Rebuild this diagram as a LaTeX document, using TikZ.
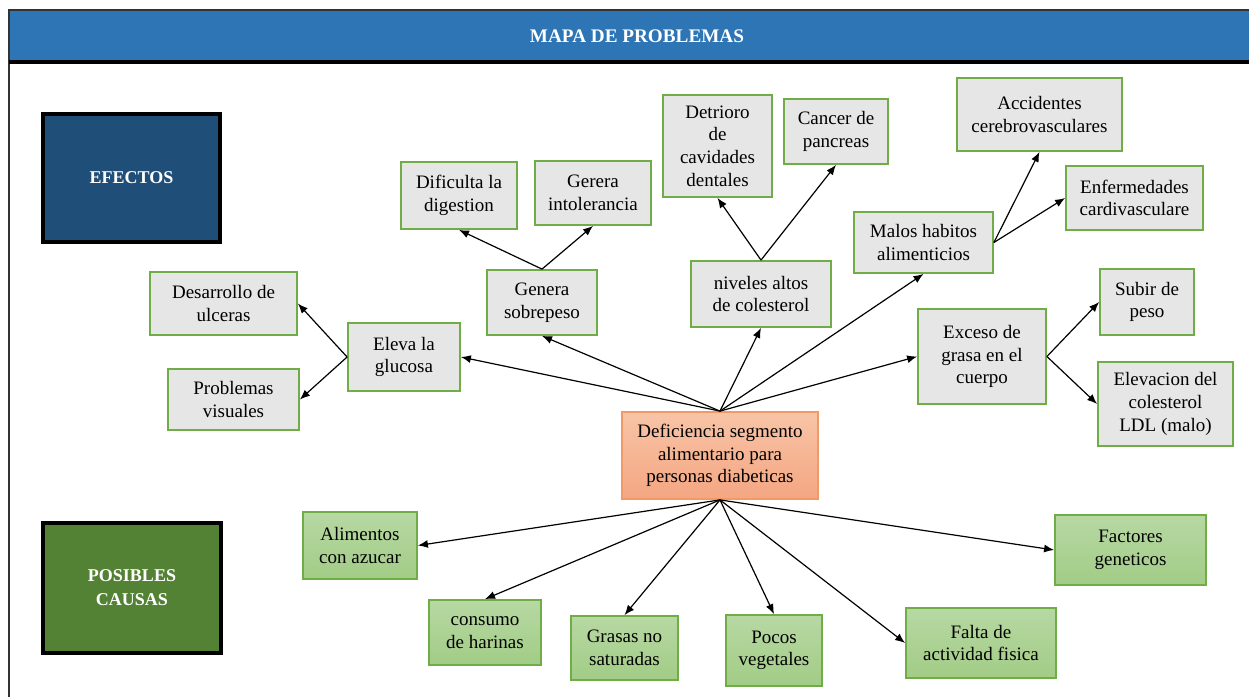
\documentclass[tikz,border=0pt]{standalone}
\usepackage{fontspec}
\usetikzlibrary{arrows.meta}
\setmainfont{Liberation Serif}
\definecolor{cabecera}{HTML}{2E75B6}
\definecolor{azulosc}{HTML}{1F4E79}
\definecolor{verdeosc}{HTML}{548235}
\definecolor{gris}{HTML}{E7E6E6}
\definecolor{borde}{HTML}{70AD47}
\definecolor{causaarr}{HTML}{B7D8A3}
\definecolor{causaab}{HTML}{A2CC86}
\definecolor{centroarr}{HTML}{F8C4A6}
\definecolor{centroab}{HTML}{F4A682}
\definecolor{centroborde}{HTML}{F09A68}
\begin{document}
\begin{tikzpicture}[>={Latex[length=5pt,width=4pt]}, x=0.5pt, y=-0.5pt,
  font=\fontsize{9.5}{11.3}\selectfont,
  sz/.style 2 args={minimum width=#1*0.5pt, minimum height=#2*0.5pt},
  caja/.style={draw=borde, line width=0.9pt, align=center, inner sep=2pt},
  efecto/.style={caja, fill=gris},
  causa/.style={caja, top color=causaarr, bottom color=causaab},
  titulo/.style={draw=black, line width=1.6pt, align=center, text=white, font=\fontsize{9}{12}\selectfont\bfseries},
  flecha/.style={->, semithick}]
\useasboundingbox (0,0) rectangle (1249,697);
\fill[cabecera] (9,10) rectangle (1249,62);
\draw[line width=0.8pt, black!80] (1249,10) -- (9,10) -- (9,697);
\draw[line width=1.6pt] (9,62) -- (1249,62);
\node[text=white, font=\fontsize{9.6}{12}\selectfont\bfseries] (mapa) at (637,36) {MAPA DE PROBLEMAS};

\node[titulo, fill=azulosc, sz={177}{128}] (efectos) at (131.5,178) {EFECTOS};
\node[titulo, fill=verdeosc, sz={178}{130}] (causas) at (132,588) {POSIBLES\\CAUSAS};

\node[caja, fill=centroarr, draw=centroborde, top color=centroarr, bottom color=centroab, sz={196}{87}] (centro) at (720,455.5) {Deficiencia segmento\\alimentario para\\personas diabeticas};

\node[efecto, sz={147}{63}] (ulceras) at (223.5,303.5) {Desarrollo de\\ulceras};
\node[efecto, sz={131}{61}] (visuales) at (233.5,399.5) {Problemas\\visuales};
\node[efecto, sz={112}{68}] (glucosa) at (404,357) {Eleva la\\glucosa};
\node[efecto, sz={116}{67}] (digestion) at (459,195.5) {Dificulta la\\digestion};
\node[efecto, sz={116}{64}] (intolerancia) at (593,193) {Gerera\\intolerancia};
\node[efecto, sz={110}{65}] (sobrepeso) at (542,302.5) {Genera\\sobrepeso};
\node[efecto, sz={109}{102}] (dentales) at (717.5,146) {Detrioro\\de\\cavidades\\dentales};
\node[efecto, sz={104}{65}] (pancreas) at (836,131.5) {Cancer de\\pancreas};
\node[efecto, sz={140}{66}] (colesterol) at (761,294) {niveles altos\\de colesterol};
\node[efecto, sz={139}{61}] (habitos) at (923.5,242.5) {Malos habitos\\alimenticios};
\node[efecto, sz={165}{73}] (accidentes) at (1039.5,114.5) {Accidentes\\cerebrovasculares};
\node[efecto, sz={137}{64}] (cardio) at (1134.5,198) {Enfermedades\\cardivasculare};
\node[efecto, sz={128}{95}] (grasa) at (982,356.5) {Exceso de\\grasa en el\\cuerpo};
\node[efecto, sz={94}{66}] (peso) at (1147,302) {Subir de\\peso};
\node[efecto, sz={135}{84}] (ldl) at (1165.5,404) {Elevacion del\\colesterol\\LDL (malo)};

\node[causa, sz={114}{67}] (azucar) at (360,545.5) {Alimentos\\con azucar};
\node[causa, sz={112}{65}] (harinas) at (485,632.5) {consumo\\de harinas};
\node[causa, sz={107}{64}] (grasas) at (624.5,648) {Grasas no\\saturadas};
\node[causa, sz={96}{71}] (vegetales) at (774,650.5) {Pocos\\vegetales};
\node[causa, sz={150}{70}] (actividad) at (981,643) {Falta de\\actividad fisica};
\node[causa, sz={151}{70}] (geneticos) at (1130.5,550) {Factores\\geneticos};

% efectos
\draw[flecha] (centro.north) -- (glucosa.east);
\draw[flecha] (centro.north) -- (sobrepeso.south);
\draw[flecha] (centro.north) -- (colesterol.south);
\draw[flecha] (centro.north) -- (habitos.south);
\draw[flecha] (centro.north) -- (grasa.west);
\draw[flecha] (glucosa.west) -- (ulceras.east);
\draw[flecha] (glucosa.west) -- (visuales.east);
\draw[flecha] (sobrepeso.north) -- (digestion.south);
\draw[flecha] (sobrepeso.north) -- (intolerancia.south);
\draw[flecha] (colesterol.north) -- (dentales.south);
\draw[flecha] (colesterol.north) -- (pancreas.south);
\draw[flecha] (habitos.east) -- (accidentes.south);
\draw[flecha] (habitos.east) -- (cardio.west);
\draw[flecha] (grasa.east) -- (peso.west);
\draw[flecha] (grasa.east) -- (ldl.west);
% causas
\foreach \c/\a in {azucar/east, harinas/north, grasas/north, vegetales/north, actividad/west, geneticos/west}
  \draw[flecha] (centro.south) -- (\c.\a);
\end{tikzpicture}
\end{document}
